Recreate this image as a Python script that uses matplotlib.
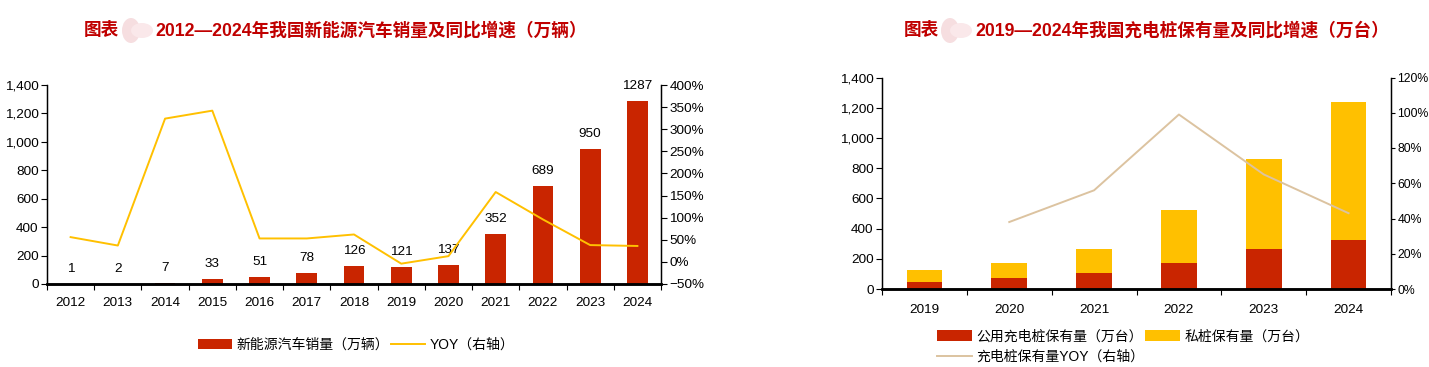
import matplotlib
matplotlib.use("Agg")
import numpy as np
import matplotlib.pyplot as plt
from matplotlib.patches import Ellipse

plt.rcParams['font.family'] = ['Liberation Sans', 'Noto Sans CJK SC']

W, H = 1429, 367
RED = '#C92500'
AMBER = '#FFC000'
TAN = '#DCC3A0'
TITLE = '#C00000'

# left chart data
years_ev = ['2012', '2013', '2014', '2015', '2016', '2017', '2018', '2019', '2020', '2021', '2022', '2023', '2024']
sales_ev = [1, 2, 7, 33, 51, 78, 126, 121, 137, 352, 689, 950, 1287]
yoy_ev = [56, 37, 324, 342, 53, 53, 62, -4, 13, 158, 96, 38, 36]

# right chart data
years_pile = ['2019', '2020', '2021', '2022', '2023', '2024']
public_pile = [44, 75, 109, 173, 266, 322]
private_pile = [82, 98, 157, 353, 597, 916]
yoy_pile = [None, 38, 56, 99, 65, 43]

left_ticks = [0, 200, 400, 600, 800, 1000, 1200, 1400]


def axes_px(fig, x0, x1, y0, y1):
    # y0 is the top edge, in image pixels
    return fig.add_axes([x0 / W, 1 - y1 / H, (x1 - x0) / W, (y1 - y0) / H])


def style_axes(ax, ax2, n, labels, xpad, right_size=9.7, right_len=4, right_pad=2):
    ax.set_xlim(-0.5, n - 0.5)
    ax.set_ylim(0, 1400)
    ax.set_yticks(left_ticks)
    ax.set_yticklabels([f'{t:,}' for t in left_ticks])
    ax.set_xticks(np.arange(n + 1) - 0.5, minor=False)
    ax.set_xticklabels([])
    ax.set_xticks(np.arange(n), minor=True)
    ax.set_xticklabels(labels, minor=True)
    ax.tick_params(axis='x', which='minor', length=0, labelsize=9.7, pad=xpad)
    ax.tick_params(axis='x', which='major', length=4, width=0.8)
    ax.tick_params(axis='y', length=4, width=0.8, labelsize=9.7, pad=2)
    ax2.tick_params(axis='y', length=right_len, width=0.8, labelsize=right_size, pad=right_pad)
    ax.spines['top'].set_visible(False)
    ax2.spines['top'].set_visible(False)
    ax.spines['bottom'].set_linewidth(1.8)
    ax2.spines['bottom'].set_linewidth(1.8)
    ax.spines['left'].set_linewidth(1.0)
    ax2.spines['right'].set_linewidth(1.0)
    ax.set_zorder(ax2.get_zorder() - 1)
    ax2.patch.set_visible(False)


def title_px(fig, x0, y, head, body, blob_x):
    # pale smudge between the two parts of the title
    for dx, w, h, c in [(-5, 18, 25, '#F6DEE0'), (6, 22, 15, '#FAE8EA')]:
        fig.add_artist(Ellipse(((blob_x + dx) / W, 1 - y / H), w / W, h / H,
                               transform=fig.transFigure, color=c, lw=0))
    fig.text(x0[0] / W, 1 - y / H, head, color=TITLE, fontsize=12.7, weight='bold', va='center', ha='left')
    fig.text(x0[1] / W, 1 - y / H, body, color=TITLE, fontsize=12.7, weight='bold', va='center', ha='left')


fig = plt.figure(figsize=(W / 100, H / 100), dpi=100)

# ---- left chart
ax1 = axes_px(fig, 47, 661, 85, 284)
x = np.arange(len(years_ev))
b1 = ax1.bar(x, sales_ev, width=0.44, color=RED, label='新能源汽车销量（万辆）')
ax1b = ax1.twinx()
l1, = ax1b.plot(x, yoy_ev, color=AMBER, lw=1.4, label='YOY（右轴）')
ax1b.set_ylim(-50, 400)
ax1b.set_yticks(np.arange(-50, 401, 50))
ax1b.set_yticklabels([f'{t}%'.replace('-', '\u2212') for t in np.arange(-50, 401, 50)])
style_axes(ax1, ax1b, len(years_ev), years_ev, 9.5)
for xi, v in zip(x, sales_ev):
    ax1.annotate(str(v), (xi, v), xytext=(0, 9), textcoords='offset pixels',
                 ha='center', va='bottom', fontsize=9.7, annotation_clip=False)
fig.legend(handles=[b1, l1], loc='center', bbox_to_anchor=(356 / W, 1 - 345 / H), ncol=2, frameon=False,
           fontsize=10, handlelength=2.5, handleheight=0.8, columnspacing=0.1, handletextpad=0.3,
           borderpad=0, borderaxespad=0)
title_px(fig, (84, 155), 30.5, '图表', '2012—2024年我国新能源汽车销量及同比增速（万辆）', 136)

# ---- right chart
ax2 = axes_px(fig, 882, 1391, 77.5, 289)
x = np.arange(len(years_pile))
b2 = ax2.bar(x, public_pile, width=0.42, color=RED, label='公用充电桩保有量（万台）')
b3 = ax2.bar(x, private_pile, width=0.42, bottom=public_pile, color=AMBER, label='私桩保有量（万台）')
ax2b = ax2.twinx()
l2, = ax2b.plot(x[1:], yoy_pile[1:], color=TAN, lw=1.4, label='充电桩保有量YOY（右轴）')
ax2b.set_ylim(0, 120)
ax2b.set_yticks(np.arange(0, 121, 20))
ax2b.set_yticklabels([f'{t}%' for t in np.arange(0, 121, 20)])
style_axes(ax2, ax2b, len(years_pile), years_pile, 11, right_size=8.8, right_len=3, right_pad=1.5)
fig.legend(handles=[b2, l2, b3], loc='upper left', bbox_to_anchor=(937 / W, 1 - 329.5 / H), ncol=2, frameon=False,
           fontsize=10, handlelength=2.5, handleheight=0.8, columnspacing=0.1, handletextpad=0.3,
           labelspacing=0.45, borderpad=0, borderaxespad=0)
title_px(fig, (904, 975), 30.5, '图表', '2019—2024年我国充电桩保有量及同比增速（万台）', 955)

fig.savefig('out.png', dpi=100)
